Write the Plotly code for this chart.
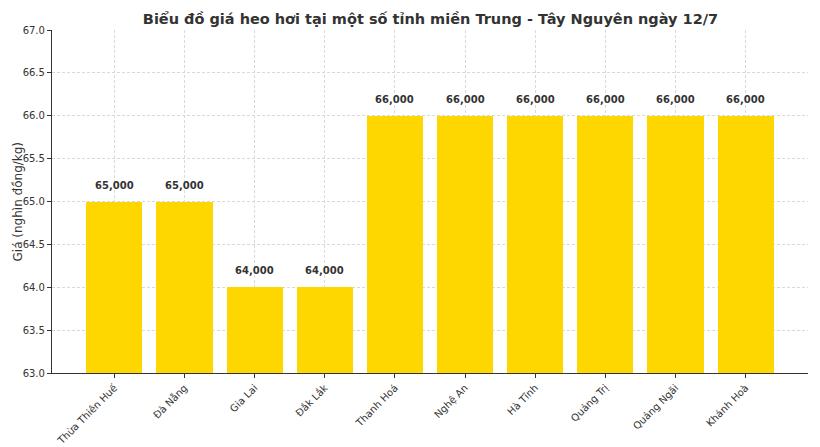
import plotly.graph_objects as go

provinces = ['Thừa Thiên Huế', 'Đà Nẵng', 'Gia Lai', 'Đắk Lắk', 'Thanh Hoá',
             'Nghệ An', 'Hà Tĩnh', 'Quảng Trị', 'Quảng Ngãi', 'Khánh Hoà']
prices = [65.0, 65.0, 64.0, 64.0, 66.0, 66.0, 66.0, 66.0, 66.0, 66.0]
y_ticks = [63.0, 63.5, 64.0, 64.5, 65.0, 65.5, 66.0, 66.5, 67.0]

FONT = 'DejaVu Sans'
TEXT = '#333333'

fig = go.Figure()
fig.add_trace(go.Bar(
    x=list(range(len(provinces))),
    y=prices,
    width=0.8,
    marker=dict(color='#FFD700', line=dict(width=0)),
    hoverinfo='x+y',
))

# value labels above each bar
for i, v in enumerate(prices):
    fig.add_annotation(
        x=i, y=v, text=f'<b>{int(v * 1000):,}</b>',
        showarrow=False, yanchor='bottom', yshift=9,
        font=dict(family=FONT, size=10, color=TEXT),
    )

# y axis title as an annotation so it can sit exactly where the reference has it
fig.add_annotation(
    xref='paper', yref='paper', x=-35 / 756, y=0.5,
    xanchor='center', yanchor='middle', textangle=-90,
    text='Giá (nghìn đồng/kg)', showarrow=False,
    font=dict(family=FONT, size=12, color=TEXT),
)

fig.update_layout(
    width=820, height=447,
    margin=dict(l=52, r=12, t=30, b=74),
    plot_bgcolor='white', paper_bgcolor='white',
    font=dict(family=FONT, size=10, color=TEXT),
    showlegend=False,
    bargap=0,
    title=dict(
        text='<b>Biểu đồ giá heo hơi tại một số tỉnh miền Trung - Tây Nguyên ngày 12/7</b>',
        x=0.525, xanchor='center', y=0.9575, yanchor='middle',
        font=dict(family=FONT, size=14.5, color=TEXT),
    ),
)
grid = dict(showgrid=True, gridcolor='#d9d9d9', griddash='3px,2px', gridwidth=0.7,
            layer='above traces', zeroline=False, automargin=False,
            ticks='outside', ticklen=4, tickcolor='#333333',
            showline=True, linecolor='#333333', linewidth=1.2,
            tickfont=dict(family=FONT, size=10, color=TEXT))
fig.update_xaxes(
    range=[-0.89, 9.89],
    tickmode='array', tickvals=list(range(len(provinces))), ticktext=provinces,
    tickangle=-45,
    **grid,
)
fig.update_yaxes(
    range=[63, 67],
    tickmode='array', tickvals=y_ticks, ticktext=[f'{t:.1f}' for t in y_ticks],
    **grid,
)

# remove the default body margin so the figure sits at the window's corner
fig.write_html('out.html', config={'displayModeBar': False},
               post_script="document.body.style.margin='0';")
